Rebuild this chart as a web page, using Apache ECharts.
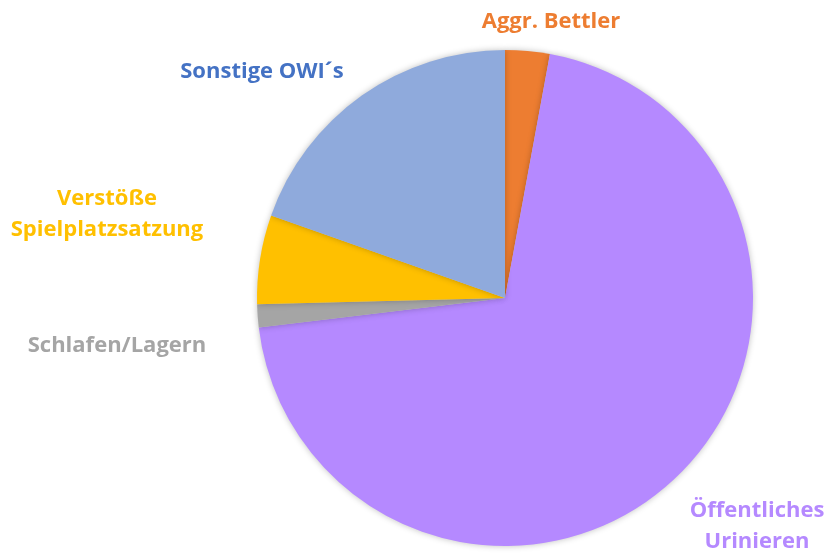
<!DOCTYPE html>
<html>
<head>
<meta charset="utf-8">
<script src="https://cdn.jsdelivr.net/npm/echarts@6/dist/echarts.min.js"></script>
<style>
  html, body { margin: 0; padding: 0; background: #fff; }
  #chart { width: 825px; height: 553px; }
</style>
</head>
<body>
<div id="chart"></div>
<script>
// Anteile (%), im Uhrzeigersinn ab 12 Uhr
var categories = ['Aggr. Bettler', 'Öffentliches\nUrinieren', 'Schlafen/Lagern', 'Verstöße\nSpielplatzsatzung', 'Sonstige OWI´s']
var values = [2.9, 70.2, 1.5, 5.8, 19.6]
var sliceColors = ['#ED7D31', '#B589FF', '#A5A5A5', '#FFC000', '#8FAADC']
var labelColors = ['#ED7D31', '#B589FF', '#A5A5A5', '#FFC000', '#4472C4']

// Beschriftungspositionen (Mittelpunkt)
var labelPos = [[551, 22], [757, 526], [117, 346], [107, 214], [262, 72]]

var chart = echarts.init(document.getElementById('chart'))

chart.setOption({
  animation: false,
  series: [{
    type: 'pie',
    center: [505, 298],
    radius: 248,
    startAngle: 90,
    clockwise: true,
    data: categories.map(function (name, i) {
      return {
        name: name,
        value: values[i],
        itemStyle: { color: sliceColors[i] },
        label: { color: labelColors[i] }
      }
    }),
    itemStyle: {
      borderWidth: 0,
      shadowBlur: 6,
      shadowColor: 'rgba(0,0,0,0.25)'
    },
    label: {
      show: true,
      position: 'outside',
      formatter: '{b}',
      fontFamily: 'Open Sans',
      fontWeight: 'bold',
      fontSize: 22,
      lineHeight: 31,
      align: 'center',
      overflow: 'none'
    },
    labelLine: { show: false },
    labelLayout: function (params) {
      var p = labelPos[params.dataIndex]
      return {
        x: p[0],
        y: p[1],
        align: 'center',
        verticalAlign: 'middle'
      }
    },
    emphasis: { disabled: true }
  }]
})
</script>
</body>
</html>
